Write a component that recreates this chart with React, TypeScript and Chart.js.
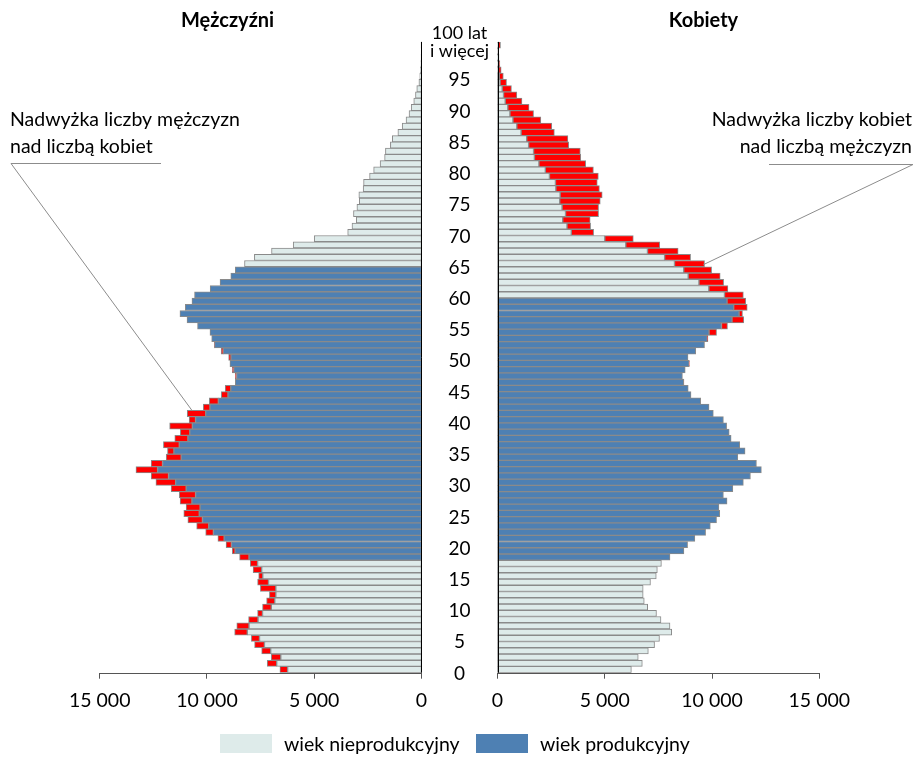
import React, { useEffect, useRef } from 'react';
import { Chart, registerables } from 'chart.js';
Chart.register(...registerables);

// ---- data ----
const ageCategories: string[] = [
  '0','1','2','3','4','5','6','7','8','9','10','11','12','13','14','15','16','17','18','19',
  '20','21','22','23','24','25','26','27','28','29','30','31','32','33','34','35','36','37','38','39',
  '40','41','42','43','44','45','46','47','48','49','50','51','52','53','54','55','56','57','58','59',
  '60','61','62','63','64','65','66','67','68','69','70','71','72','73','74','75','76','77','78','79',
  '80','81','82','83','84','85','86','87','88','89','90','91','92','93','94','95','96','97','98','99',
  '100 lat i więcej',
];

const men: number[] = [
  6600, 7190, 7000, 7450, 7780, 7930, 8710, 8610, 8060, 7640,
  7410, 7220, 7090, 7510, 7640, 7590, 7850, 7980, 8480, 8820,
  9110, 9490, 10060, 10480, 10890, 11080, 10970, 11250, 11290, 11670,
  12380, 12600, 13310, 12600, 11900, 11840, 12030, 11500, 11240, 11740,
  10830, 10920, 10170, 9890, 9330, 9150, 8680, 8680, 8820, 8930,
  8990, 9340, 9660, 9780, 9860, 10440, 10930, 11260, 11010, 10700,
  10580, 9850, 9390, 8890, 8680, 8250, 7790, 6990, 5980, 5000,
  3440, 3240, 3040, 3170, 3010, 2900, 2920, 2720, 2700, 2420,
  2230, 1930, 1720, 1680, 1450, 1360, 1100, 900, 720, 580,
  480, 360, 280, 220, 120, 80, 50, 30, 20, 10,
  20,
];

const women: number[] = [
  6240, 6750, 6560, 7030, 7320, 7550, 8120, 8040, 7620, 7410,
  7000, 6840, 6790, 6790, 7130, 7400, 7450, 7640, 8040, 8690,
  8860, 9200, 9700, 9920, 10210, 10360, 10320, 10700, 10530, 10970,
  11460, 11790, 12300, 12070, 11200, 11540, 11290, 10890, 10800, 10680,
  10530, 10060, 9860, 9470, 9020, 8890, 8690, 8620, 8750, 8940,
  8880, 9240, 9650, 9810, 10210, 10720, 11480, 11420, 11640, 11570,
  11460, 10740, 10540, 10380, 9980, 9650, 9000, 8420, 7560, 6330,
  4480, 4340, 4320, 4710, 4710, 4790, 4880, 4750, 4650, 4700,
  4470, 4110, 3880, 3860, 3320, 3280, 2650, 2530, 2020, 1680,
  1470, 1140, 900, 650, 420, 270, 170, 110, 70, 50,
  140,
];

const productiveFrom = 18;
const menProductiveTo = 64;
const womenProductiveTo = 59;

const axisTicks: number[] = [15000, 10000, 5000, 0];
const ageTickLabels: number[] = [0, 5, 10, 15, 20, 25, 30, 35, 40, 45, 50, 55, 60, 65, 70, 75, 80, 85, 90, 95];

const titleMen = 'Mężczyźni';
const titleWomen = 'Kobiety';
const noteMen = ['Nadwyżka liczby mężczyzn', 'nad liczbą kobiet'];
const noteWomen = ['Nadwyżka liczby kobiet', 'nad liczbą mężczyzn'];
const legendLabels = ['wiek nieprodukcyjny', 'wiek produkcyjny'];

// ---- styles ----
const GAP = 1772; // half-width of the central gap, in axis units
const MAXV = 15000;
const C_LIGHT = '#DEEBEA';
const C_BLUE = '#4E80B3';
const C_RED = '#FF0000';
const C_EDGE = '#8A8A8A';
const FONT = 'Lato, "Open Sans", sans-serif';

function fmt(v: number): string {
  return String(v).replace(/\B(?=(\d{3})+(?!\d))/g, ' ');
}

function buildDatasets() {
  const n = ageCategories.length;
  const menNP: any[] = [], menP: any[] = [], menEx: any[] = [];
  const womNP: any[] = [], womP: any[] = [], womEx: any[] = [];
  for (let i = 0; i < n; i++) {
    const m = men[i], w = women[i];
    const base = Math.min(m, w);
    const menProd = i >= productiveFrom && i <= menProductiveTo;
    const womProd = i >= productiveFrom && i <= womenProductiveTo;
    const mb: [number, number] = [-GAP, -(GAP + base)];
    const wb: [number, number] = [GAP, GAP + base];
    menNP.push(menProd ? null : mb);
    menP.push(menProd ? mb : null);
    womNP.push(womProd ? null : wb);
    womP.push(womProd ? wb : null);
    menEx.push(m > w ? [-(GAP + w), -(GAP + m)] : null);
    womEx.push(w > m ? [GAP + m, GAP + w] : null);
  }
  const common = {
    grouped: false,
    barPercentage: 1,
    categoryPercentage: 1,
    borderWidth: 1,
    borderColor: C_EDGE,
    borderSkipped: false as any,
  };
  return [
    { label: 'M np', data: menNP, backgroundColor: C_LIGHT, ...common },
    { label: 'M p', data: menP, backgroundColor: C_BLUE, ...common },
    { label: 'M ex', data: menEx, backgroundColor: C_RED, ...common },
    { label: 'K np', data: womNP, backgroundColor: C_LIGHT, ...common },
    { label: 'K p', data: womP, backgroundColor: C_BLUE, ...common },
    { label: 'K ex', data: womEx, backgroundColor: C_RED, ...common },
  ];
}

const decorPlugin = {
  id: 'decor',
  afterDatasetsDraw(chart: any) {
    const ctx = chart.ctx as CanvasRenderingContext2D;
    const xs = chart.scales.x;
    const ys = chart.scales.y;
    const area = chart.chartArea;
    const xl0 = xs.getPixelForValue(-GAP);
    const xr0 = xs.getPixelForValue(GAP);
    const xlMax = xs.getPixelForValue(-(GAP + MAXV));
    const xrMax = xs.getPixelForValue(GAP + MAXV);
    const mid = (xl0 + xr0) / 2;
    ctx.save();
    // vertical axis lines
    ctx.strokeStyle = '#000';
    ctx.lineWidth = 1;
    ctx.beginPath();
    ctx.moveTo(Math.round(xl0) + 0.5, area.top);
    ctx.lineTo(Math.round(xl0) + 0.5, area.bottom);
    ctx.moveTo(Math.round(xr0) + 0.5, area.top);
    ctx.lineTo(Math.round(xr0) + 0.5, area.bottom);
    ctx.stroke();
    // bottom axis lines
    ctx.strokeStyle = '#555';
    ctx.beginPath();
    const yb = Math.round(area.bottom) + 0.5;
    ctx.moveTo(xlMax, yb);
    ctx.lineTo(xl0, yb);
    ctx.moveTo(xr0, yb);
    ctx.lineTo(xrMax, yb);
    ctx.stroke();

    // age labels
    ctx.fillStyle = '#000';
    ctx.textAlign = 'center';
    ctx.textBaseline = 'middle';
    ctx.font = `19px ${FONT}`;
    ageTickLabels.forEach((a) => {
      const y = ys.getPixelForValue(a) + 4;
      ctx.fillText(String(a), mid, y);
    });
    ctx.font = `18px ${FONT}`;
    const yTop = ys.getPixelForValue(ageCategories.length - 1);
    ctx.fillText('100 lat', mid, yTop - 12);
    ctx.fillText('i więcej', mid, yTop + 6);

    // titles
    ctx.font = `bold 20px ${FONT}`;
    ctx.fillText(titleMen, (xlMax + xl0) / 2 - 33, 21);
    ctx.fillText(titleWomen, (xr0 + xrMax) / 2 + 45, 21);

    // annotations
    ctx.font = `19.5px ${FONT}`;
    ctx.textAlign = 'left';
    ctx.fillText(noteMen[0], 10, 120);
    ctx.fillText(noteMen[1], 10, 147);
    ctx.textAlign = 'right';
    ctx.fillText(noteWomen[0], 912, 120);
    ctx.fillText(noteWomen[1], 912, 147);

    ctx.strokeStyle = '#8C8C8C';
    ctx.lineWidth = 1;
    // left leader
    const lEndX = xs.getPixelForValue(-(GAP + 10700));
    const lEndY = (ys.getPixelForValue(41) + ys.getPixelForValue(42)) / 2;
    ctx.beginPath();
    ctx.moveTo(161, 163.5);
    ctx.lineTo(11, 163.5);
    ctx.lineTo(lEndX, lEndY);
    ctx.stroke();
    // right leader
    const rEndX = xs.getPixelForValue(GAP + 9600);
    const rEndY = ys.getPixelForValue(65) + 1;
    ctx.beginPath();
    ctx.moveTo(769, 164.5);
    ctx.lineTo(913, 164.5);
    ctx.lineTo(rEndX, rEndY);
    ctx.stroke();
    ctx.restore();
  },
};

export default function App() {
  const ref = useRef<HTMLCanvasElement>(null);
  useEffect(() => {
    const tickVals: number[] = [];
    axisTicks.forEach((t) => tickVals.push(-(GAP + t)));
    [...axisTicks].reverse().forEach((t) => tickVals.push(GAP + t));
    const chart = new Chart(ref.current as HTMLCanvasElement, {
      type: 'bar',
      data: { labels: ageCategories, datasets: buildDatasets() as any },
      options: {
        indexAxis: 'y',
        responsive: false,
        animation: false,
        layout: { padding: { left: 99.7, right: 99.7, top: 41.9, bottom: 44.3 } },
        plugins: { legend: { display: false }, tooltip: { enabled: false } },
        scales: {
          y: {
            type: 'category',
            reverse: true,
            display: false,
          },
          x: {
            type: 'linear',
            min: -(GAP + MAXV),
            max: GAP + MAXV,
            afterBuildTicks: (scale: any) => {
              scale.ticks = tickVals.map((v) => ({ value: v }));
            },
            afterFit: (scale: any) => {
              scale.height = 40;
            },
            grid: {
              display: true,
              drawOnChartArea: false,
              drawTicks: true,
              tickLength: 6,
              color: '#555',
            },
            border: { display: false },
            ticks: {
              autoSkip: false,
              maxRotation: 0,
              padding: 10,
              color: '#000',
              font: { family: FONT, size: 19.5 },
              callback: (v: any) => fmt(Math.abs(Number(v)) - GAP),
            },
          },
        },
      },
      plugins: [decorPlugin],
    } as any);
    return () => chart.destroy();
  }, []);

  const legendText: React.CSSProperties = {
    position: 'absolute',
    top: 732,
    fontFamily: FONT,
    fontSize: 19.5,
    lineHeight: '24px',
    color: '#000',
    whiteSpace: 'nowrap',
  };
  return (
    <div style={{ position: 'fixed', left: 0, top: 0, width: 919, height: 757, background: '#fff' }}>
      <canvas ref={ref} width={919} height={757} style={{ position: 'absolute', left: 0, top: 0, width: 919, height: 757 }} />
      <div style={{ position: 'absolute', left: 220, top: 734, width: 52, height: 19, background: C_LIGHT }} />
      <div style={{ ...legendText, left: 284 }}>{legendLabels[0]}</div>
      <div style={{ position: 'absolute', left: 476, top: 734, width: 52, height: 19, background: C_BLUE }} />
      <div style={{ ...legendText, left: 540 }}>{legendLabels[1]}</div>
    </div>
  );
}
